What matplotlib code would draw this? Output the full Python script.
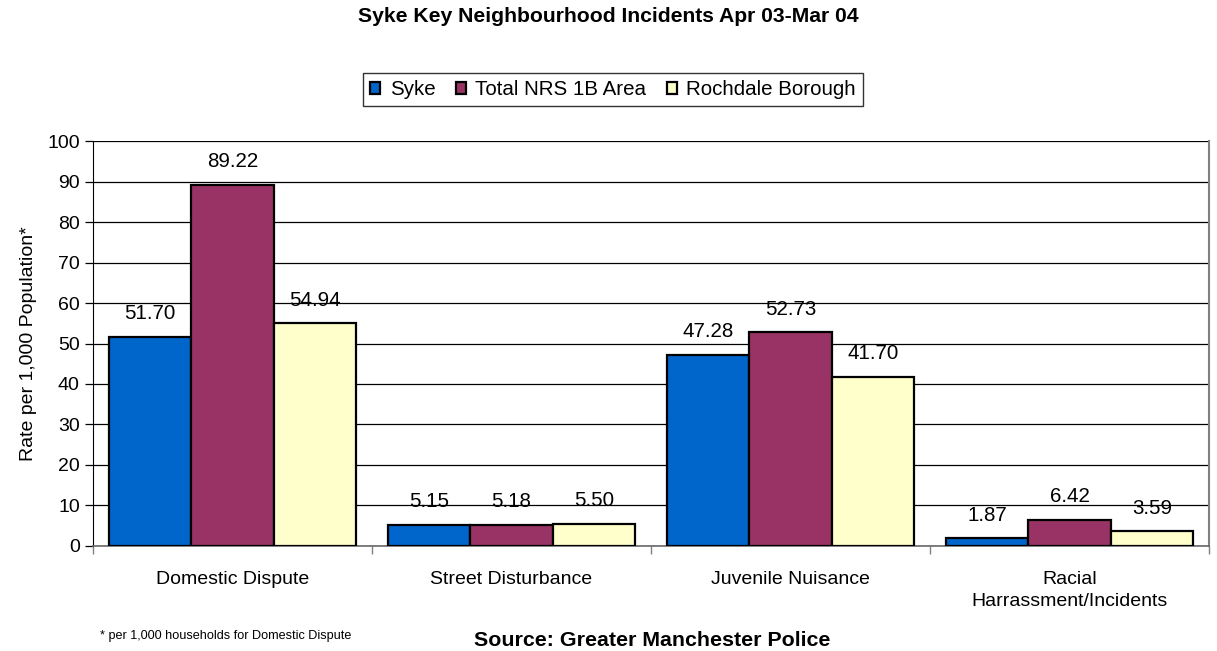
import numpy as np
import matplotlib.pyplot as plt

plt.rcParams['font.family'] = ['Liberation Sans', 'DejaVu Sans']

categories = ["Domestic Dispute", "Street Disturbance", "Juvenile Nuisance",
              "Racial\nHarrassment/Incidents"]
series_names = ["Syke", "Total NRS 1B Area", "Rochdale Borough"]
syke = [51.70, 5.15, 47.28, 1.87]
nrs_1b = [89.22, 5.18, 52.73, 6.42]
rochdale = [54.94, 5.50, 41.70, 3.59]
colors = ["#0066CC", "#993366", "#FFFFCC"]

fig = plt.figure(figsize=(12.17, 6.51), dpi=100)
ax = fig.add_axes([0.0764, 0.1613, 0.917, 0.6221])

x = np.arange(len(categories))
width = 0.295
for i, (name, vals) in enumerate(zip(series_names, [syke, nrs_1b, rochdale])):
    pos = x + (i - 1) * width
    ax.bar(pos, vals, width, color=colors[i], edgecolor="black", linewidth=1.6,
           label=name, zorder=3)
    for px, v in zip(pos, vals):
        ax.annotate(f"{v:.2f}", (px, v), xytext=(0, 10), textcoords="offset points",
                    ha="center", va="bottom", fontsize=14.8, zorder=4)

ax.set_xlim(-0.5, len(categories) - 0.5)
ax.set_ylim(0, 100)
ax.set_yticks(range(0, 101, 10))
ax.yaxis.grid(True, color="black", linewidth=0.9, zorder=0)
ax.tick_params(axis="y", labelsize=14, length=6, color="black", width=0.9)

# category labels centered, tick marks at category boundaries
ax.set_xticks(x)
ax.set_xticklabels(categories, fontsize=14, linespacing=1.35)
ax.tick_params(axis="x", which="major", length=0, pad=18)
ax.set_xticks(np.arange(-0.5, len(categories)), minor=True)
ax.tick_params(axis="x", which="minor", length=6, color="gray", width=1)

ax.spines["top"].set_visible(False)
ax.spines["right"].set_color("gray")
ax.spines["right"].set_linewidth(1.5)
ax.spines["left"].set_color("black")
ax.spines["bottom"].set_color("dimgray")
ax.spines["bottom"].set_linewidth(1.2)

ax.set_ylabel("Rate per 1,000 Population*", fontsize=14, labelpad=7)

fig.text(0.5, 0.9754, "Syke Key Neighbourhood Incidents Apr 03-Mar 04",
         ha="center", va="center", fontsize=15.2, fontweight="bold")

leg = fig.legend(loc="center", bbox_to_anchor=(0.5037, 0.8625), ncol=3, fontsize=14.8,
                 frameon=True, fancybox=False, edgecolor="black", handlelength=0.5,
                 handleheight=0.5, handletextpad=0.45, columnspacing=1.0,
                 borderpad=0.34)
leg.get_frame().set_linewidth(1.0)
for h in leg.legend_handles:
    h.set_linewidth(1.6)

fig.text(0.0822, 0.023, "* per 1,000 households for Domestic Dispute",
         ha="left", va="center", fontsize=9.1)
fig.text(0.5357, 0.0155, "Source: Greater Manchester Police",
         ha="center", va="center", fontsize=15.4, fontweight="bold")

fig.savefig("out.png", dpi=100)
